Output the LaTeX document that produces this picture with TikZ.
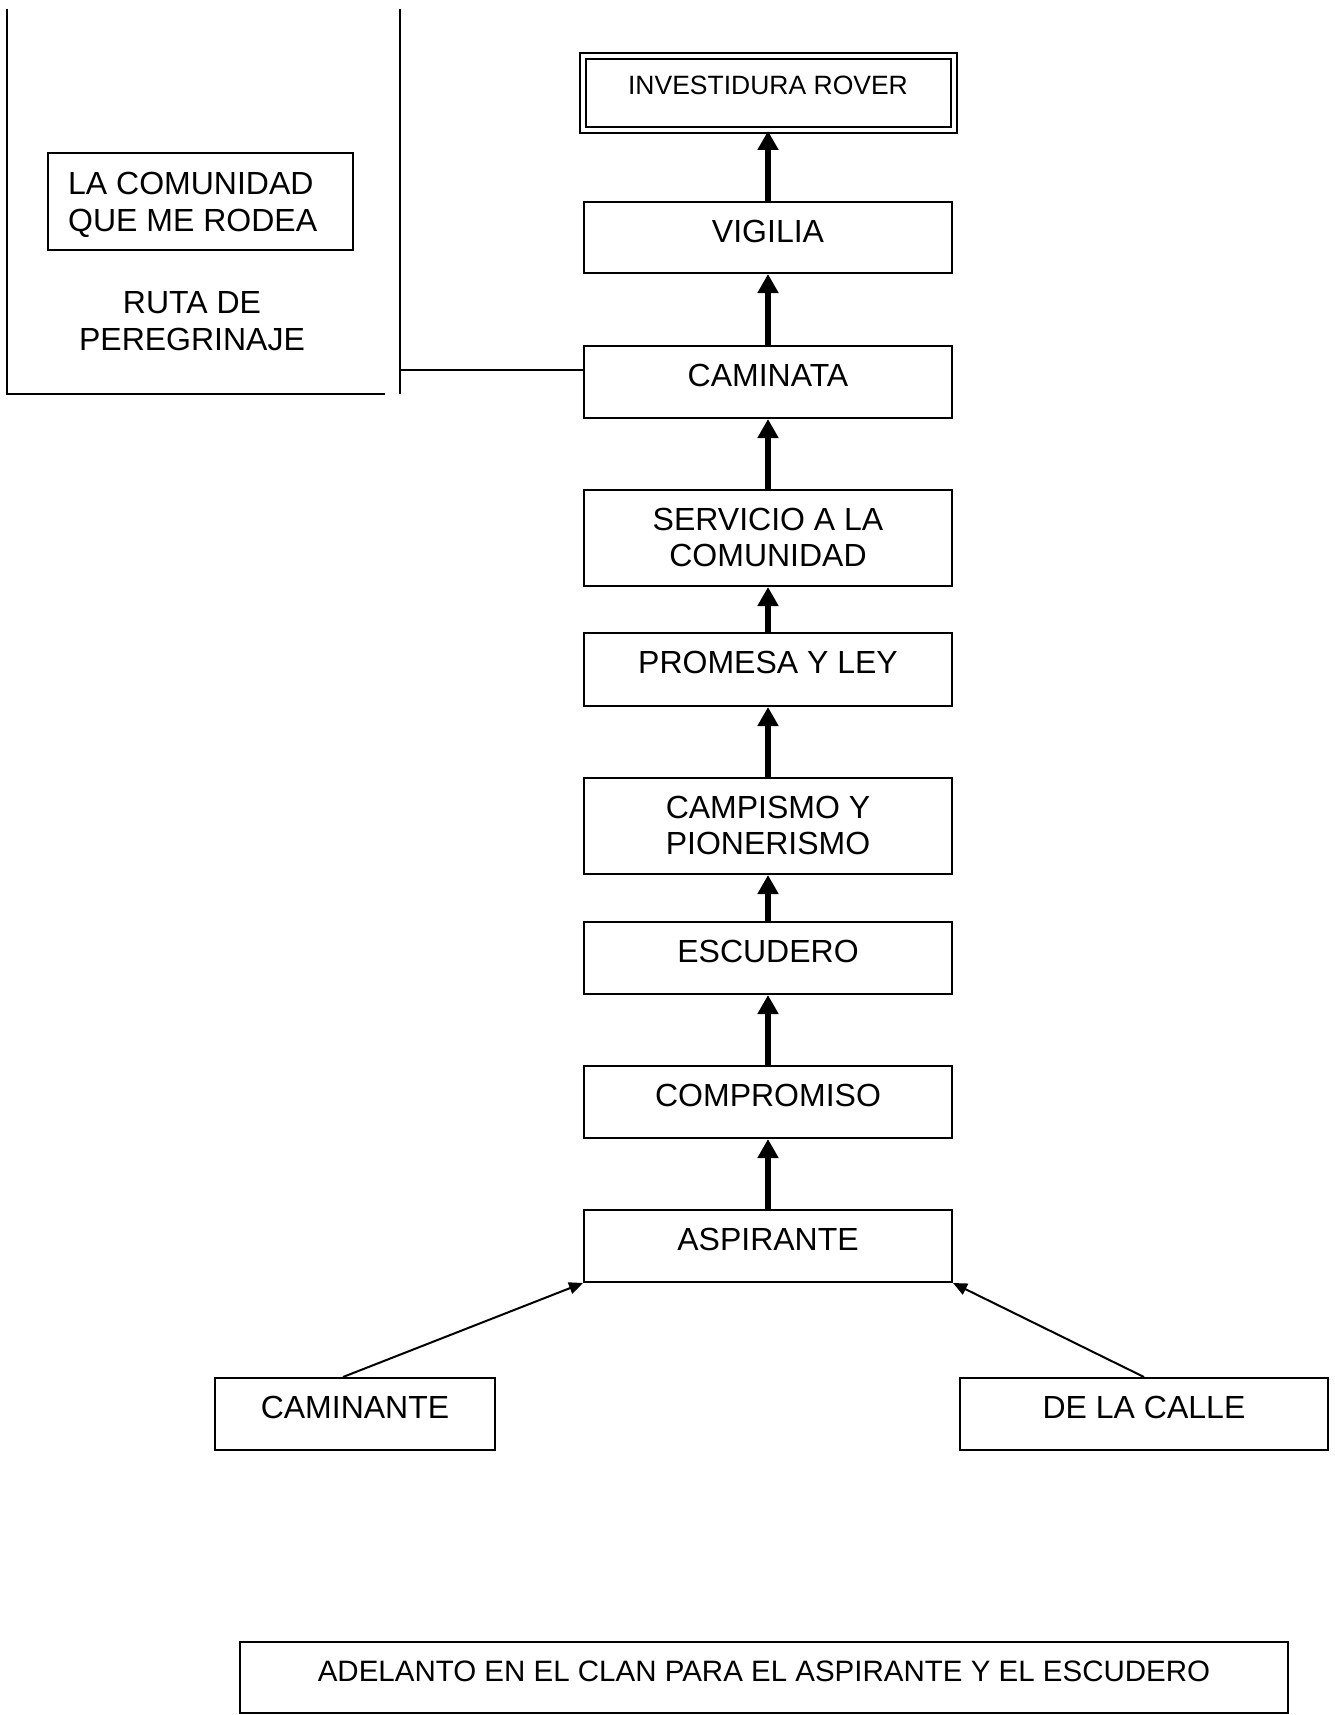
\documentclass[tikz,border=0pt]{standalone}
\usepackage{fontspec}
\setmainfont{Liberation Sans}
\usetikzlibrary{arrows.meta,calc}
\begin{document}
\begin{tikzpicture}[x=1pt,y=-1pt,
  bx/.style={draw,line width=2pt,inner sep=0pt},
  mainbx/.style={bx,minimum width=368pt},
  txt/.style={inner sep=0pt,align=center,font=\fontsize{32}{36}\selectfont},
  smalltxt/.style={inner sep=0pt,align=center,font=\fontsize{26.5}{30}\selectfont},
  midtxt/.style={inner sep=0pt,align=center,font=\fontsize{29.5}{34}\selectfont},
  ln/.style={line width=2pt},
  bigarrow/.style={line width=6.7pt,-{Triangle[length=19pt,width=20pt]}},
  thinarrow/.style={line width=2pt,-{Triangle[length=14pt,width=12pt]}}
]
\useasboundingbox (0,0) rectangle (1335,1715);

% main column
\node[bx,double,double distance=4pt,minimum width=371pt,minimum height=74pt] (inv) at (768,93) {};
\node[mainbx,minimum height=71pt] (vig) at (768,237.5) {};
\node[mainbx,minimum height=72pt] (cmt) at (768,382) {};
\node[mainbx,minimum height=96pt] (srv) at (768,538) {};
\node[mainbx,minimum height=73pt] (pro) at (768,669.5) {};
\node[mainbx,minimum height=96pt] (cps) at (768,826) {};
\node[mainbx,minimum height=72pt] (esc) at (768,958) {};
\node[mainbx,minimum height=72pt] (cmp) at (768,1102) {};
\node[mainbx,minimum height=72pt] (asp) at (768,1246) {};
\node[bx,minimum width=280pt,minimum height=72pt] (cam) at (355,1414) {};
\node[bx,minimum width=368pt,minimum height=72pt] (cal) at (1144,1414) {};
\node[bx,minimum width=1048pt,minimum height=71pt] (ade) at (764,1677.5) {};
\node[bx,minimum width=305pt,minimum height=97pt] (com) at (200.5,201.5) {};

% texts
\node[smalltxt,anchor=north] (invT) at ($(inv.north)+(0,20.5)$) {INVESTIDURA ROVER};
\node[txt,anchor=north] (vigT) at ($(vig.north)+(0,18.5)$) {VIGILIA};
\node[txt,anchor=north] (cmtT) at ($(cmt.north)+(0,18.5)$) {CAMINATA};
\node[txt,anchor=north] (srvT) at ($(srv.north)+(0,18.5)$) {SERVICIO A LA\\COMUNIDAD};
\node[txt,anchor=north] (proT) at ($(pro.north)+(0,18.5)$) {PROMESA Y LEY};
\node[txt,anchor=north] (cpsT) at ($(cps.north)+(0,18.5)$) {CAMPISMO Y\\PIONERISMO};
\node[txt,anchor=north] (escT) at ($(esc.north)+(0,18.5)$) {ESCUDERO};
\node[txt,anchor=north] (cmpT) at ($(cmp.north)+(0,18.5)$) {COMPROMISO};
\node[txt,anchor=north] (aspT) at ($(asp.north)+(0,18.5)$) {ASPIRANTE};
\node[txt,anchor=north] (camT) at ($(cam.north)+(0,18.5)$) {CAMINANTE};
\node[txt,anchor=north] (calT) at ($(cal.north)+(0,18.5)$) {DE LA CALLE};
\node[midtxt,anchor=north] (adeT) at ($(ade.north)+(0,20)$) {ADELANTO EN EL CLAN PARA EL ASPIRANTE Y EL ESCUDERO};
\node[txt,anchor=north west,align=left,font=\fontsize{32}{37}\selectfont] (comT) at (68,172) {LA COMUNIDAD\\QUE ME RODEA};
\node[txt,anchor=north,font=\fontsize{32}{37}\selectfont] (rutaT) at (192,291) {RUTA DE\\PEREGRINAJE};

% thick arrows
\draw[bigarrow] (vig.north) -- (inv.south);
\draw[bigarrow] (cmt.north) -- (vig.south);
\draw[bigarrow] (srv.north) -- (cmt.south);
\draw[bigarrow] (pro.north) -- (srv.south);
\draw[bigarrow] (cps.north) -- (pro.south);
\draw[bigarrow] (esc.north) -- (cps.south);
\draw[bigarrow] (cmp.north) -- (esc.south);
\draw[bigarrow] (asp.north) -- (cmp.south);

% thin arrows
\draw[thinarrow] ([xshift=-12pt]cam.north) -- (asp.south west);
\draw[thinarrow] (cal.north) -- (asp.south east);

% left frame
\coordinate (fl1) at (7,9);
\coordinate (fl2) at (7,394);
\coordinate (fl3) at (385,394);
\coordinate (fr1) at (400,9);
\coordinate (fr2) at (400,394);
\coordinate (jn) at (400,370);
\draw[ln] (fl1) -- (fl2) -- (fl3);
\draw[ln] (fr1) -- (fr2);
\draw[ln] (jn) -- (jn -| cmt.west);
\end{tikzpicture}
\end{document}
